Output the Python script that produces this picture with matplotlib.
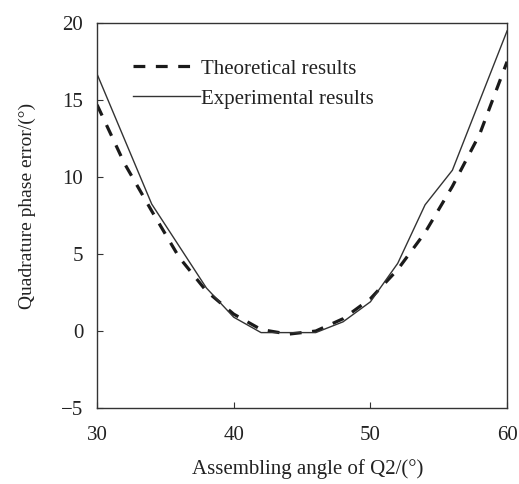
import matplotlib
matplotlib.use("Agg")
import matplotlib.pyplot as plt

plt.rcParams['font.family'] = ['Liberation Serif', 'DejaVu Serif']

# Theoretical curve (dashed)
theo_x = [30, 32, 34, 36, 38, 40, 42, 44, 46, 48, 50, 52, 54, 56, 58, 60]
theo_y = [14.7, 10.9, 7.8, 4.8, 2.6, 1.1, 0.1, -0.2, 0.0, 0.8, 2.1, 4.0, 6.4, 9.4, 12.8, 17.5]

# Experimental curve (solid)
exp_x = [30, 34, 38, 40, 42, 46, 48, 50, 52, 54, 56, 60]
exp_y = [16.7, 8.25, 2.8, 0.9, -0.1, -0.1, 0.6, 1.9, 4.4, 8.2, 10.45, 19.5]

xticks = [30, 40, 50, 60]
yticks = [-5, 0, 5, 10, 15, 20]

fig = plt.figure(figsize=(5.19, 4.84), dpi=100)
ax = fig.add_axes([0.187, 0.157, 0.790, 0.795])

ax.plot(theo_x, theo_y, color='#1a1a1a', lw=2.3, ls=(0, (3.7, 3.3)),
        label='Theoretical results')
ax.plot(exp_x, exp_y, color='#333333', lw=1.0, label='Experimental results')

ax.set_xlim(30, 60)
ax.set_ylim(-5, 20)
ax.set_xticks(xticks)
ax.set_yticks(yticks)
ax.set_yticklabels(['\u22125' if v < 0 else str(v) for v in yticks])
ax.tick_params(direction='in', length=4, width=0.8, labelsize=15,
               colors='#333333', labelcolor='#222222')
ax.tick_params(axis='x', pad=13)
ax.tick_params(axis='y', pad=10)
for sp in ax.spines.values():
    sp.set_color('#333333')
    sp.set_linewidth(1.0)

ax.set_xlabel('Assembling angle of Q2/(°)', fontsize=15, color='#222222')
ax.set_ylabel('Quadrature phase error/(°)', fontsize=14, color='#222222')
ax.xaxis.set_label_coords(0.513, -0.132)
ax.yaxis.set_label_coords(-0.148, 0.525)

ax.legend(loc='upper left', bbox_to_anchor=(0.088, 0.907), frameon=False,
          borderpad=0, borderaxespad=0,
          fontsize=15, handlelength=3.2, handletextpad=0.05, labelspacing=0.5,
          labelcolor='#222222')

fig.savefig('out.png', dpi=100)
